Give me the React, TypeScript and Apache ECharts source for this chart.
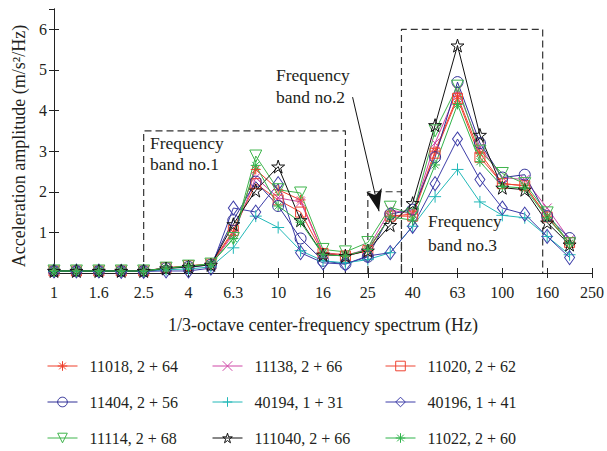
import React, { useEffect, useRef } from 'react';
import * as echarts from 'echarts';

// 1/3-octave center frequencies (Hz); data points at indices 0..23, axis runs to 250 Hz
const frequencies = ['1', '1.25', '1.6', '2', '2.5', '3.15', '4', '5', '6.3', '8', '10', '12.5', '16', '20', '25', '31.5', '40', '50', '63', '80', '100', '125', '160', '200', '250'];
const yTickLabels = ['1', '2', '3', '4', '5', '6'];

const seriesNames = ['11018, 2 + 64', '11138, 2 + 66', '11020, 2 + 62', '11404, 2 + 56', '40194, 1 + 31', '40196, 1 + 41', '11114, 2 + 68', '111040, 2 + 66', '11022, 2 + 60'];

const s11018 = [0.05, 0.05, 0.05, 0.05, 0.05, 0.12, 0.17, 0.22, 1.0, 2.55, 2.05, 1.8, 0.5, 0.45, 0.55, 1.4, 1.45, 3.0, 4.35, 2.95, 2.2, 2.15, 1.4, 0.72];
const s11138 = [0.05, 0.05, 0.05, 0.05, 0.05, 0.12, 0.16, 0.2, 0.95, 2.35, 1.85, 1.75, 0.5, 0.42, 0.6, 1.55, 1.45, 3.2, 4.5, 3.1, 2.35, 2.3, 1.6, 0.82];
const s11020 = [0.05, 0.05, 0.05, 0.05, 0.05, 0.13, 0.18, 0.22, 1.05, 2.2, 1.8, 1.5, 0.48, 0.42, 0.55, 1.4, 1.4, 2.95, 4.3, 2.85, 2.2, 2.15, 1.38, 0.75];
const s11404 = [0.05, 0.05, 0.05, 0.05, 0.05, 0.12, 0.15, 0.2, 1.3, 2.25, 1.65, 0.85, 0.3, 0.22, 0.4, 1.45, 1.56, 2.85, 4.7, 3.2, 2.35, 2.42, 1.4, 0.86];
const s40194 = [0.04, 0.04, 0.04, 0.04, 0.04, 0.08, 0.1, 0.15, 0.62, 1.4, 1.12, 0.55, 0.3, 0.25, 0.33, 0.5, 1.15, 1.88, 2.55, 1.75, 1.42, 1.36, 0.9, 0.45];
const s40196 = [0.05, 0.05, 0.05, 0.04, 0.04, 0.05, 0.05, 0.12, 1.6, 1.5, 2.2, 0.5, 0.25, 0.22, 0.42, 0.5, 1.15, 2.2, 3.3, 2.3, 1.6, 1.45, 0.9, 0.38];
const s11114 = [0.05, 0.05, 0.05, 0.05, 0.05, 0.12, 0.17, 0.22, 0.85, 2.88, 2.05, 1.97, 0.58, 0.52, 0.75, 1.62, 1.45, 3.5, 4.6, 3.0, 2.45, 2.2, 1.48, 0.72];
const s111040 = [0.05, 0.05, 0.05, 0.05, 0.05, 0.11, 0.15, 0.2, 1.2, 2.03, 2.62, 1.3, 0.45, 0.42, 0.55, 1.18, 1.72, 3.64, 5.6, 3.4, 2.1, 2.05, 1.24, 0.7];
const s11022 = [0.05, 0.05, 0.05, 0.05, 0.05, 0.12, 0.17, 0.22, 0.85, 2.65, 1.65, 1.25, 0.45, 0.42, 0.58, 1.38, 1.3, 2.66, 4.15, 2.74, 2.13, 2.09, 1.36, 0.74];

const seriesValues = [s11018, s11138, s11020, s11404, s40194, s40196, s11114, s111040, s11022];
const seriesColors = ['#ef3e2a', '#cf46a6', '#ee4433', '#2e2e96', '#22b8b8', '#3d3da8', '#3fb54c', '#111111', '#2fb34a'];

// frequency-band boxes (x in band index, y in amplitude)
const band1X = [4, 4, 13, 13];
const band1Y = [0, 3.5, 3.5, 0];
const band2X = [14, 14, 15.5, 15.5];
const band2Y = [0, 2, 2, 0];
const band3X = [15.5, 15.5, 21.8, 21.8];
const band3Y = [0, 6, 6, 0];
const arrowFrom = [13.32, 4.33];
const arrowTo = [14.5, 1.52];

const SYM_AST = 'path://M10 0 L10 20 M0 10 L20 10 M3 3 L17 17 M3 17 L17 3';
const SYM_X = 'path://M0 0 L20 20 M0 20 L20 0';
const SYM_PLUS = 'path://M10 0 L10 20 M0 10 L20 10';
const SYM_TRI = 'path://M0 0 L20 0 L10 17.3 Z';
const SYM_STAR = 'path://M10 0 L12.25 6.91 L19.51 6.91 L13.63 11.18 L15.88 18.09 L10 13.82 L4.12 18.09 L6.37 11.18 L0.49 6.91 L7.75 6.91 Z';
const seriesSymbols = [SYM_AST, SYM_X, 'rect', 'circle', SYM_PLUS, 'diamond', SYM_TRI, SYM_STAR, SYM_AST];
const seriesSymbolSizes: any[] = [10, 9, 10, 11, 12, [10, 14], 12, 13, 10];

const FONT = "'Liberation Serif', 'Times New Roman', serif";
const TXT = '#231f20';

export default function App() {
  const ref = useRef<HTMLDivElement>(null);
  useEffect(() => {
    if (!ref.current) return;
    const chart = echarts.init(ref.current, undefined, { renderer: 'svg' });

    const dataSeries = seriesNames.map((name, k) => ({
      name,
      type: 'line',
      xAxisIndex: 0,
      yAxisIndex: 0,
      data: seriesValues[k].map((v, i) => [i, v]),
      color: seriesColors[k],
      symbol: seriesSymbols[k],
      symbolSize: seriesSymbolSizes[k],
      showAllSymbol: true,
      lineStyle: { color: seriesColors[k], width: 1 },
      itemStyle: { color: 'rgba(0,0,0,0)', borderColor: seriesColors[k], borderWidth: 1 },
      z: 3,
    }));

    const boxSeries = [
      [band1X, band1Y],
      [band2X, band2Y],
      [band3X, band3Y],
    ].map(([xs, ys], b) => ({
      name: 'box' + b,
      type: 'line',
      data: xs.map((x, i) => [x, ys[i]]),
      symbol: 'none',
      silent: true,
      lineStyle: { color: '#333', width: 1.2, type: [7, 4] },
      z: 2,
      ...(b === 1
        ? {
            markLine: {
              silent: true,
              symbol: ['none', 'arrow'],
              symbolSize: [12, 22],
              label: { show: false },
              lineStyle: { color: '#111', width: 1, type: 'solid' },
              data: [[{ coord: arrowFrom }, { coord: arrowTo }]],
            },
          }
        : {}),
    }));

    const legendItem = (k: number) => ({
      name: seriesNames[k],
      itemStyle: { color: 'rgba(0,0,0,0)', borderColor: seriesColors[k], borderWidth: 1 },
      lineStyle: { color: seriesColors[k], width: 1 },
    });
    const legendBase = {
      orient: 'vertical',
      top: 358,
      height: 110,
      padding: 0,
      itemGap: 20,
      itemWidth: 30,
      itemHeight: 12,
      textStyle: { fontFamily: FONT, fontSize: 16, color: TXT, lineHeight: 16, padding: [0, 0, 0, 7] },
    };

    const textBase = { fontFamily: FONT, fontSize: 17.5, fill: TXT };
    const annot = (x: number, y: number, l1: string, l2: string, gap: number) => ({
      type: 'group',
      left: x,
      top: y,
      children: [
        { type: 'text', x: 0, y: 0, style: { ...textBase, text: l1 } },
        { type: 'text', x: 0, y: gap, style: { ...textBase, text: l2 } },
      ],
    });

    chart.setOption({
      animation: false,
      backgroundColor: '#fff',
      textStyle: { fontFamily: FONT },
      grid: { left: 54, right: 14, top: 9, height: 264 },
      xAxis: [
        {
          type: 'value',
          min: 0,
          max: frequencies.length - 1,
          interval: 2,
          name: '1/3-octave center-frequency spectrum (Hz)',
          nameLocation: 'middle',
          nameGap: 43,
          nameTextStyle: { fontFamily: FONT, fontSize: 18, color: TXT },
          axisLine: { lineStyle: { color: '#222', width: 1 } },
          axisTick: { inside: true, length: 5, lineStyle: { color: '#222' } },
          axisLabel: {
            margin: 11,
            fontFamily: FONT,
            fontSize: 16,
            color: TXT,
            formatter: (v: number) => frequencies[Math.round(v)] ?? '',
          },
          splitLine: { show: false },
        },
        {
          type: 'value',
          position: 'top',
          min: 0,
          max: frequencies.length - 1,
          interval: 2,
          axisLine: { lineStyle: { color: '#222', width: 1 } },
          axisTick: { inside: true, length: 5, lineStyle: { color: '#222' } },
          axisLabel: { show: false },
          splitLine: { show: false },
        },
      ],
      yAxis: [
        {
          type: 'value',
          min: 0,
          max: 6.5,
          interval: 1,
          name: 'Acceleration amplitude (m/s\u00b2/Hz)',
          nameLocation: 'middle',
          nameGap: 24,
          nameTextStyle: { fontFamily: FONT, fontSize: 18, color: TXT, padding: [0, 10, 0, 0] },
          axisLine: { show: true, lineStyle: { color: '#222', width: 1 } },
          axisTick: { inside: true, length: 5, lineStyle: { color: '#222' } },
          axisLabel: {
            margin: 7,
            fontFamily: FONT,
            fontSize: 16,
            color: TXT,
            showMaxLabel: false,
            formatter: (v: number) => (yTickLabels.includes(String(v)) ? String(v) : ''),
          },
          splitLine: { show: false },
        },
        {
          type: 'value',
          position: 'right',
          min: 0,
          max: 6.5,
          interval: 1,
          axisLine: { show: true, lineStyle: { color: '#222', width: 1 } },
          axisTick: { inside: true, length: 5, lineStyle: { color: '#222' } },
          axisLabel: { show: false },
          splitLine: { show: false },
        },
      ],
      legend: [
        { ...legendBase, left: 47, data: [0, 3, 6].map(legendItem) },
        { ...legendBase, left: 212, data: [1, 4, 7].map(legendItem) },
        { ...legendBase, left: 385, data: [2, 5, 8].map(legendItem) },
      ],
      graphic: [
        annot(150, 134, 'Frequency', 'band no.1', 21),
        annot(276, 66, 'Frequency', 'band no.2', 22),
        annot(428, 212, 'Frequency', 'band no.3', 24),
      ],
      series: [...boxSeries, ...dataSeries],
    });

    return () => chart.dispose();
  }, []);

  return <div ref={ref} style={{ width: 607, height: 451, position: 'absolute', left: 0, top: 0 }} />;
}
